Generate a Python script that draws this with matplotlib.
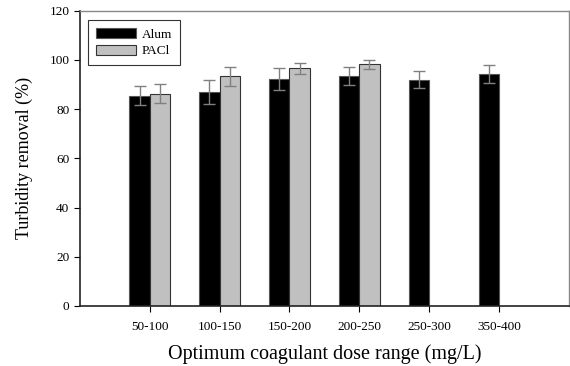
import numpy as np
import matplotlib.pyplot as plt

plt.rcParams['font.family'] = ['Liberation Serif', 'DejaVu Serif']

doses = ["50-100", "100-150", "150-200", "200-250", "250-300", "350-400"]
alum = [85.5, 87.0, 92.2, 93.3, 92.0, 94.2]
alum_err = [4.0, 5.0, 4.6, 3.6, 3.4, 3.8]
pacl = [86.3, 93.3, 96.5, 98.2]
pacl_err = [4.0, 3.9, 2.2, 1.9]

x = np.arange(1, len(doses) + 1)
w = 0.29

fig = plt.figure(figsize=(5.7, 3.66), dpi=100)
ax = fig.add_axes([0.140, 0.164, 0.858, 0.807])

ax.bar(x - w / 2, alum, w, color='black', edgecolor='#555555', linewidth=0.8,
       label='Alum', zorder=2)
ax.bar(x[:len(pacl)] + w / 2, pacl, w, color='#c0c0c0', edgecolor='#333333',
       linewidth=0.8, label='PACl', zorder=2)
ax.errorbar(x - w / 2, alum, yerr=alum_err, fmt='none', ecolor='#808080',
            elinewidth=1, capsize=4, capthick=1, zorder=3)
ax.errorbar(x[:len(pacl)] + w / 2, pacl, yerr=pacl_err, fmt='none',
            ecolor='#808080', elinewidth=1, capsize=4, capthick=1, zorder=3)

ax.set_xlim(0, 7)
ax.set_ylim(0, 120)
ax.set_yticks(range(0, 121, 20))
ax.set_xticks(x)
ax.set_xticklabels(doses)
ax.tick_params(axis='both', labelsize=9.5, length=4, width=0.8, direction='out')
ax.tick_params(axis='x', pad=7)

for s in ['left', 'bottom']:
    ax.spines[s].set_color('#222222')
    ax.spines[s].set_linewidth(1.2)
for s in ['top', 'right']:
    ax.spines[s].set_color('#888888')
    ax.spines[s].set_linewidth(1.0)

ax.set_ylabel("Turbidity removal (%)", fontsize=13, labelpad=12)
ax.set_xlabel("Optimum coagulant dose range (mg/L)", fontsize=14.5, labelpad=8)

leg = ax.legend(loc='upper left', bbox_to_anchor=(0.006, 0.985), fontsize=9.5,
                frameon=True, fancybox=False, edgecolor='black',
                handlelength=3.0, handleheight=0.8, handletextpad=0.5,
                borderpad=0.6, labelspacing=0.3, borderaxespad=0.4)
leg.get_frame().set_linewidth(0.8)

fig.savefig("out.png", dpi=100)
